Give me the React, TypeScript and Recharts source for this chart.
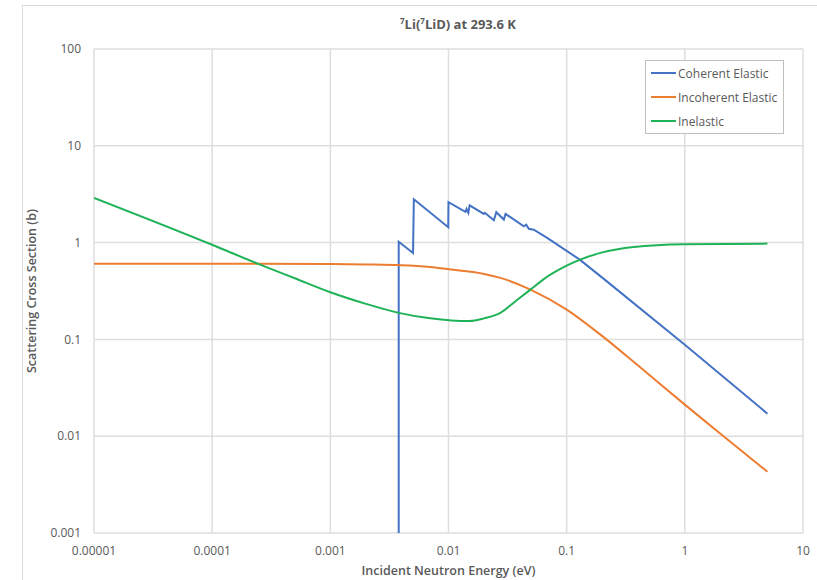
import React from 'react';
import {
  LineChart,
  Line,
  XAxis,
  YAxis,
  CartesianGrid,
  Legend
} from 'recharts';

interface XsPoint {
  e: number;
  v: number;
}

// energies (eV) and cross sections (b)
const coherentE = [0.00379, 0.00379, 0.00501, 0.00509, 0.00995, 0.0100, 0.0139, 0.0142, 0.0147, 0.0151, 0.0199, 0.0203, 0.0242, 0.0254, 0.0294, 0.0304, 0.0434, 0.0455, 0.0478, 0.0527, 0.0684, 0.129, 0.2, 1, 5];
const coherentV = [0.001, 1.02, 0.78, 2.8, 1.44, 2.62, 2.08, 2.23, 2.03, 2.43, 1.98, 2.03, 1.70, 2.06, 1.73, 1.98, 1.47, 1.53, 1.39, 1.36, 1.12, 0.667, 0.435, 0.088, 0.0171];

const incoherentE = [0.00001, 0.0001, 0.001, 0.002, 0.004, 0.007, 0.0106, 0.02, 0.0275, 0.0494, 0.1, 0.193, 0.4, 1, 2, 5];
const incoherentV = [0.605, 0.605, 0.6, 0.595, 0.585, 0.56, 0.526, 0.475, 0.432, 0.327, 0.203, 0.112, 0.054, 0.0212, 0.0106, 0.0043];

const inelasticE = [0.00001, 0.0001, 0.000242, 0.0005, 0.001, 0.002, 0.00379, 0.007, 0.0106, 0.015, 0.02, 0.0275, 0.0369, 0.0494, 0.064, 0.1, 0.13, 0.193, 0.369, 1, 5];
const inelasticV = [2.9, 0.95, 0.607, 0.428, 0.307, 0.233, 0.188, 0.165, 0.157, 0.155, 0.165, 0.188, 0.248, 0.327, 0.42, 0.578, 0.667, 0.783, 0.903, 0.96, 0.976];

const xTicks = [0.00001, 0.0001, 0.001, 0.01, 0.1, 1, 10];
const yTicks = [0.001, 0.01, 0.1, 1, 10, 100];

const toPoints = (es: number[], vs: number[]): XsPoint[] =>
  es.map((e, i) => ({ e, v: vs[i] }));

const textColor = '#595959';
const font = '"Open Sans", "Liberation Sans", sans-serif';

const LegendBox = ({ payload }: any) => (
  <div
    style={{
      border: '1px solid #bfbfbf',
      padding: '0 4px 0 5px',
      background: '#fff',
      fontFamily: font,
      fontSize: 12,
      color: textColor,
      width: 128
    }}
  >
    {(payload || []).map((p: any) => (
      <div key={p.value} style={{ display: 'flex', alignItems: 'center', height: 24, whiteSpace: 'nowrap' }}>
        <span style={{ display: 'inline-block', width: 25, height: 2, background: p.color, marginRight: 2 }} />
        <span>{p.value}</span>
      </div>
    ))}
  </div>
);

export default function App() {
  const coherent = toPoints(coherentE, coherentV);
  const incoherent = toPoints(incoherentE, incoherentV);
  const inelastic = toPoints(inelasticE, inelasticV);

  return (
    <div style={{ position: 'absolute', left: 0, top: 0, width: 817, height: 580, background: '#fff', fontFamily: font }}>
      <div style={{ position: 'absolute', left: 22, top: 5, width: 795, height: 575, borderLeft: '1px solid #d9d9d9', borderTop: '1px solid #d9d9d9' }} />
      <div
        style={{
          position: 'absolute',
          left: 358,
          top: 15,
          width: 200,
          textAlign: 'center',
          fontSize: 13,
          fontWeight: 700,
          color: textColor
        }}
      >
        <sup style={{ fontSize: 8 }}>7</sup>Li(<sup style={{ fontSize: 8 }}>7</sup>LiD) at 293.6 K
      </div>
      <LineChart width={817} height={580} margin={{ top: 49, right: 14, bottom: 0, left: 0 }}>
        <CartesianGrid stroke="#dedede" strokeWidth={1.5} />
        <XAxis
          type="number"
          dataKey="e"
          scale="log"
          domain={[0.00001, 10]}
          ticks={xTicks}
          allowDataOverflow
          height={47}
          axisLine={false}
          tickLine={false}
          tickSize={0}
          tickMargin={13}
          tickFormatter={(v: number) => String(v)}
          tick={{ fill: textColor, fontSize: 12, fontFamily: font }}
          label={{
            value: 'Incident Neutron Energy (eV)',
            position: 'insideBottom',
            offset: 5,
            fill: textColor,
            fontSize: 12.5,
            fontWeight: 600,
            fontFamily: font
          }}
        />
        <YAxis
          type="number"
          scale="log"
          domain={[0.001, 100]}
          ticks={yTicks}
          allowDataOverflow
          width={94}
          axisLine={false}
          tickLine={false}
          tickSize={0}
          tickMargin={13}
          tickFormatter={(v: number) => String(v)}
          tick={{ fill: textColor, fontSize: 12, fontFamily: font }}
          label={{
            value: 'Scattering Cross Section (b)',
            angle: -90,
            position: 'insideLeft',
            offset: 32,
            fill: textColor,
            fontSize: 12.5,
            fontWeight: 600,
            fontFamily: font,
            style: { textAnchor: 'middle' }
          }}
        />
        <Legend
          layout="horizontal"
          verticalAlign="middle"
          align="center"
          content={<LegendBox />}
          wrapperStyle={{ left: 645, top: 60, width: 140 }}
        />
        <Line
          name="Coherent Elastic"
          data={coherent}
          dataKey="v"
          type="linear"
          stroke="#4472c4"
          strokeWidth={2}
          dot={false}
          isAnimationActive={false}
        />
        <Line
          name="Incoherent Elastic"
          data={incoherent}
          dataKey="v"
          type="monotone"
          stroke="#ed7d31"
          strokeWidth={2}
          dot={false}
          isAnimationActive={false}
        />
        <Line
          name="Inelastic"
          data={inelastic}
          dataKey="v"
          type="monotone"
          stroke="#1fb257"
          strokeWidth={2}
          dot={false}
          isAnimationActive={false}
        />
      </LineChart>
    </div>
  );
}
